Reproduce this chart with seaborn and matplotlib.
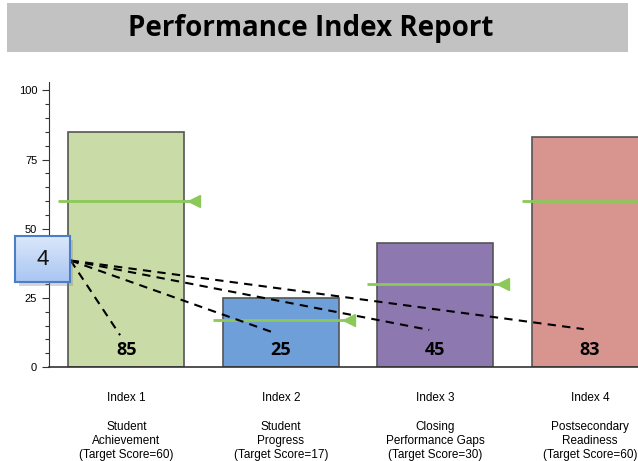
import numpy as np
import pandas as pd
import matplotlib
matplotlib.use("Agg")
import matplotlib.pyplot as plt
import seaborn as sns
from matplotlib.patches import Rectangle

indexes = ["Index 1", "Index 2", "Index 3", "Index 4"]
names = ["Student\nAchievement", "Student\nProgress", "Closing\nPerformance Gaps", "Postsecondary\nReadiness"]
scores = [85, 25, 45, 83]
targets = [60, 17, 30, 60]
bar_colors = ["#c9dba6", "#6f9fd8", "#8e78b0", "#d8958f"]
box_value = 4


def make_frame() -> pd.DataFrame:
    labels = [f"{i}\n\n{n}\n(Target Score={t})" for i, n, t in zip(indexes, names, targets)]
    return pd.DataFrame({"label": labels, "score": scores})


def draw(df: pd.DataFrame):
    sns.set_style("ticks")
    plt.rcParams["font.family"] = ["Liberation Sans", "DejaVu Sans"]
    plt.rcParams["text.color"] = "black"
    plt.rcParams["xtick.color"] = "#333333"
    plt.rcParams["ytick.color"] = "#333333"
    plt.rcParams["xtick.labelcolor"] = "black"
    plt.rcParams["ytick.labelcolor"] = "black"

    fig = plt.figure(figsize=(6.38, 4.61), dpi=100)

    # title band
    fig.patches.append(Rectangle((0.011, 0.887), 0.973, 0.106, transform=fig.transFigure,
                                 facecolor="#c2c2c2", edgecolor="none", zorder=0))
    fig.text(0.487, 0.938, "Performance Index Report", ha="center", va="center",
             fontsize=20, fontweight="bold", family=["Open Sans", "DejaVu Sans"])

    ax = fig.add_axes([0.0768, 0.2039, 0.969, 0.618])
    sns.barplot(data=df, x="label", y="score", hue="label", palette=bar_colors,
                saturation=1, legend=False, width=0.75, edgecolor="#555555",
                linewidth=1.2, ax=ax)
    ax.set_xlim(-0.5, 3.5)
    ax.set_ylim(0, 103)
    ax.set_xlabel("")
    ax.set_ylabel("")
    ax.set_yticks([0, 25, 50, 75, 100])
    ax.set_yticks(np.arange(0, 101, 5), minor=True)
    ax.tick_params(axis="y", labelsize=8, length=5, width=0.8)
    ax.tick_params(axis="y", which="minor", length=3, width=0.8)
    ax.tick_params(axis="x", length=0, labelsize=8.5, pad=18)
    for lab in ax.get_xticklabels():
        lab.set_linespacing(1.25)
    sns.despine(ax=ax)
    ax.spines["left"].set_color("#333333")
    ax.spines["bottom"].set_color("#333333")
    ax.spines["bottom"].set_linewidth(1.2)

    # target lines
    x = np.arange(len(scores))
    ax.hlines(targets, x - 0.44, x + 0.46, color="#8cc85a", linewidth=2, zorder=4, clip_on=False)
    ax.plot(x + 0.44, targets, linestyle="none", marker="<", markersize=9,
            color="#8cc85a", zorder=5, clip_on=False)

    # value labels
    for i, s in enumerate(scores):
        ax.text(i, 6, str(s), ha="center", va="center", fontsize=13, fontweight="bold",
                family=["Open Sans", "DejaVu Sans"], color="black", zorder=6)

    # dashed pointers from box
    start = (-0.36, 38.5)
    ends_y = [11.5, 12.3, 13.4, 13.7]
    for i, ey in enumerate(ends_y):
        ax.plot([start[0], i - 0.04], [start[1], ey], linestyle=(0, (4, 3)), color="black",
                linewidth=1.5, zorder=6, clip_on=False)

    # box with gradient and soft shadow
    sh = fig.add_axes([0.029, 0.379, 0.0862, 0.0998])
    sh.set_axis_off()
    sh.add_patch(Rectangle((0, 0), 1, 1, facecolor="#888888", alpha=0.35, edgecolor="none"))
    sh.set_zorder(9)
    bx = fig.add_axes([0.0235, 0.388, 0.0862, 0.0998])
    bx.set_zorder(10)
    grad = np.linspace(0, 1, 50).reshape(-1, 1)
    cmap = matplotlib.colors.LinearSegmentedColormap.from_list("g", ["#dce8fb", "#a9c6f2"])
    bx.imshow(grad, aspect="auto", cmap=cmap, extent=[0, 1, 0, 1], origin="upper")
    bx.set_xticks([])
    bx.set_yticks([])
    for sp in bx.spines.values():
        sp.set_color("#4a7fc8")
        sp.set_linewidth(1.5)
    bx.text(0.5, 0.5, str(box_value), ha="center", va="center", fontsize=16,
            color="#111111", family=["Liberation Sans", "DejaVu Sans"])

    fig.savefig("out.png", dpi=100)


def main():
    df = make_frame()
    draw(df)


if __name__ == "__main__":
    main()
